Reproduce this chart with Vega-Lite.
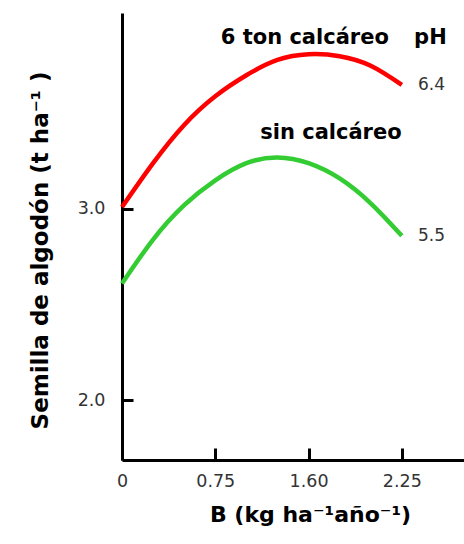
{
  "$schema": "https://vega.github.io/schema/vega-lite/v6.json",
  "width": 342,
  "height": 447,
  "autosize": "none",
  "padding": {"left": 122, "top": 13, "right": 0, "bottom": 84},
  "background": "white",
  "config": {"view": {"stroke": null}, "font": "DejaVu Sans"},
  "datasets": {
    "curves": [
      {"B": 0, "rend": 3.01, "serie": "6 ton calcáreo"},
      {"B": 0.25, "rend": 3.24, "serie": "6 ton calcáreo"},
      {"B": 0.5, "rend": 3.44, "serie": "6 ton calcáreo"},
      {"B": 0.75, "rend": 3.59, "serie": "6 ton calcáreo"},
      {"B": 1.0, "rend": 3.70, "serie": "6 ton calcáreo"},
      {"B": 1.25, "rend": 3.78, "serie": "6 ton calcáreo"},
      {"B": 1.5, "rend": 3.81, "serie": "6 ton calcáreo"},
      {"B": 1.75, "rend": 3.80, "serie": "6 ton calcáreo"},
      {"B": 2.0, "rend": 3.75, "serie": "6 ton calcáreo"},
      {"B": 2.25, "rend": 3.65, "serie": "6 ton calcáreo"},
      {"B": 0, "rend": 2.61, "serie": "sin calcáreo"},
      {"B": 0.25, "rend": 2.84, "serie": "sin calcáreo"},
      {"B": 0.5, "rend": 3.02, "serie": "sin calcáreo"},
      {"B": 0.75, "rend": 3.15, "serie": "sin calcáreo"},
      {"B": 1.0, "rend": 3.24, "serie": "sin calcáreo"},
      {"B": 1.25, "rend": 3.27, "serie": "sin calcáreo"},
      {"B": 1.5, "rend": 3.24, "serie": "sin calcáreo"},
      {"B": 1.75, "rend": 3.16, "serie": "sin calcáreo"},
      {"B": 2.0, "rend": 3.03, "serie": "sin calcáreo"},
      {"B": 2.25, "rend": 2.86, "serie": "sin calcáreo"}
    ],
    "names": [
      {"B": 1.47, "rend": 3.895, "label": "6 ton calcáreo"},
      {"B": 2.48, "rend": 3.895, "label": "pH"},
      {"B": 1.68, "rend": 3.40, "label": "sin calcáreo"}
    ],
    "ph": [
      {"B": 2.38, "rend": 3.65, "label": "6.4"},
      {"B": 2.38, "rend": 2.86, "label": "5.5"}
    ]
  },
  "encoding": {
    "x": {
      "field": "B",
      "type": "quantitative",
      "scale": {"domain": [0, 2.75], "nice": false, "zero": false},
      "axis": {
        "title": "B (kg ha⁻¹año⁻¹)",
        "titleFont": "DejaVu Sans",
        "titleFontWeight": "bold",
        "titleFontSize": 22,
        "titleColor": "black",
        "titleAnchor": "middle",
        "titleX": 188,
        "titleY": 44,
        "titleBaseline": "top",
        "values": [0, 0.75, 1.5, 2.25],
        "labelExpr": "datum.value == 0 ? '0' : datum.value == 1.5 ? '1.60' : format(datum.value, '.2f')",
        "labelFont": "DejaVu Sans",
        "labelFontSize": 17.5,
        "labelColor": "#333333",
        "labelPadding": 24,
        "tickSize": -12,
        "tickWidth": 3,
        "tickColor": "black",
        "domainWidth": 3,
        "domainColor": "black",
        "grid": false,
        "labelFlush": false
      }
    },
    "y": {
      "field": "rend",
      "type": "quantitative",
      "scale": {"domain": [1.686, 4.026], "nice": false, "zero": false},
      "axis": {
        "title": "Semilla de algodón (t ha⁻¹ )",
        "titleFont": "DejaVu Sans",
        "titleFontWeight": "bold",
        "titleFontSize": 23,
        "titleColor": "black",
        "titleAnchor": "middle",
        "titleX": -70,
        "titleY": 237,
        "values": [2, 3],
        "format": ".1f",
        "labelFont": "DejaVu Sans",
        "labelFontSize": 17.5,
        "labelColor": "#333333",
        "labelPadding": 28,
        "tickSize": -11,
        "tickWidth": 3,
        "tickColor": "black",
        "domainWidth": 3,
        "domainColor": "black",
        "grid": false
      }
    }
  },
  "layer": [
    {
      "data": {"name": "curves"},
      "mark": {"type": "line", "interpolate": "natural", "strokeWidth": 4.5},
      "encoding": {
        "color": {
          "field": "serie",
          "type": "nominal",
          "scale": {"domain": ["6 ton calcáreo", "sin calcáreo"], "range": ["#ff0000", "#33cc33"]},
          "legend": null
        }
      }
    },
    {
      "data": {"name": "names"},
      "mark": {"type": "text", "font": "DejaVu Sans", "fontWeight": "bold", "fontSize": 21, "align": "center", "baseline": "middle", "color": "black"},
      "encoding": {"text": {"field": "label"}}
    },
    {
      "data": {"name": "ph"},
      "mark": {"type": "text", "font": "DejaVu Sans", "fontSize": 17, "align": "left", "baseline": "middle", "color": "#333333"},
      "encoding": {"text": {"field": "label"}}
    }
  ]
}
